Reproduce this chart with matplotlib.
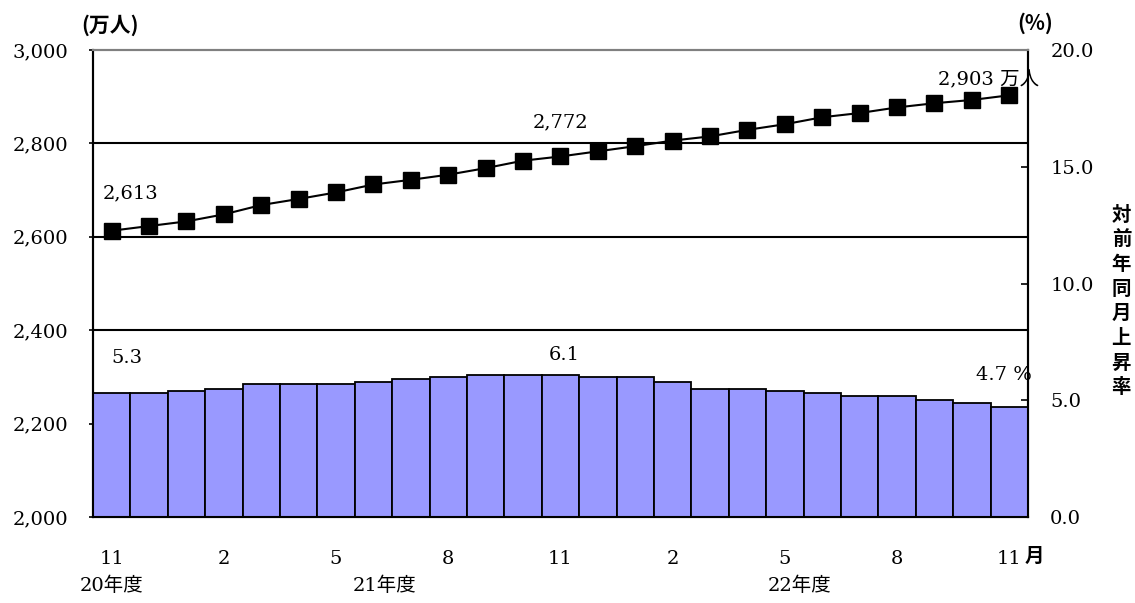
import numpy as np
import matplotlib.pyplot as plt

# データ（20年度11月 ～ 22年度11月）
meses = ['11', '', '', '2', '', '', '5', '', '', '8', '', '', '11', '', '', '2', '', '', '5', '', '', '8', '', '', '11']
pessoas = [2613, 2623, 2633, 2648, 2668, 2681, 2695, 2712, 2722, 2733, 2747, 2763, 2772,
           2783, 2794, 2806, 2815, 2829, 2841, 2856, 2865, 2877, 2886, 2893, 2903]
taxa = [5.3, 5.3, 5.4, 5.5, 5.7, 5.7, 5.7, 5.8, 5.9, 6.0, 6.1, 6.1, 6.1,
        6.0, 6.0, 5.8, 5.5, 5.5, 5.4, 5.3, 5.2, 5.2, 5.0, 4.9, 4.7]
anos = ['20年度', '21年度', '22年度']
anos_pos = [0, 7.3, 18.4]

serif = ['DejaVu Serif', 'Noto Sans CJK JP']
cjk = ['Noto Sans CJK JP', 'DejaVu Sans']
plt.rcParams['font.family'] = serif
fs = 14

x = np.arange(len(pessoas))

fig = plt.figure(figsize=(11.35, 6.03), dpi=100)
ax = fig.add_axes([0.0819, 0.1426, 0.8238, 0.7745])
ax2 = ax.twinx()

# eixo esquerdo (万人)
ax.set_ylim(2000, 3000)
ax.set_yticks([2000, 2200, 2400, 2600, 2800, 3000])
ax.set_yticklabels([f'{v:,}' for v in [2000, 2200, 2400, 2600, 2800, 3000]], fontsize=fs)
for v in [2200, 2400, 2600, 2800]:
    ax.axhline(v, color='black', lw=1.5, zorder=0)
ax.tick_params(axis='y', direction='out', length=3, width=1.2, pad=15)

# barras no eixo direito (%)
ax2.bar(x, taxa, width=1.0, color='#9999FF', edgecolor='black', linewidth=1.3, zorder=2)
ax2.set_ylim(0, 20)
ax2.set_yticks([0, 5, 10, 15, 20])
ax2.set_yticklabels([f'{v:.1f}' for v in [0, 5, 10, 15, 20]], fontsize=fs)
ax2.tick_params(axis='y', direction='in', length=5, width=1.2, pad=16)

# linha
ax2.plot(x, [(p - 2000) / 50 for p in pessoas], color='black', lw=1.5, marker='s',
         markersize=11, zorder=3)

ax.set_xlim(-0.5, len(pessoas) - 0.5)
ax.set_xticks(x)
ax.set_xticklabels(meses, fontsize=fs)
ax.tick_params(axis='x', length=0, pad=24)

for a in (ax, ax2):
    a.spines['left'].set_linewidth(1.5)
    a.spines['right'].set_linewidth(1.5)
    a.spines['bottom'].set_linewidth(1.5)
    a.spines['top'].set_color('#808080')
    a.spines['top'].set_linewidth(1.5)

# rótulos
ax.text(0.5, 2694, '2,613', fontsize=fs, ha='center', va='center')
ax.text(12, 2846, '2,772', fontsize=fs, ha='center', va='center')
ax.text(24.8, 2936, '2,903 万人', fontsize=fs, ha='right', va='center', family=serif)
ax2.text(0.4, 6.8, '5.3', fontsize=fs, ha='center', va='center')
ax2.text(12.1, 6.94, '6.1', fontsize=fs, ha='center', va='center')
ax2.text(24.6, 6.08, '4.7 %', fontsize=fs, ha='right', va='center')

trans = ax.get_xaxis_transform()
for pos, ano in zip(anos_pos, anos):
    ax.text(pos, -0.148, ano, transform=trans, fontsize=fs, ha='center', va='center', family=serif)
ax.text(24.4, -0.085, '月', transform=trans, fontsize=fs, ha='left', va='center',
        family=cjk, fontweight='bold')

fig.text(0.097, 0.958, '(万人)', fontsize=15, ha='center', va='center', family=cjk, fontweight='bold')
fig.text(0.912, 0.962, '(%)', fontsize=15, ha='center', va='center', family=cjk, fontweight='bold')
fig.text(0.988, 0.5, '\n'.join('対前年同月上昇率'), fontsize=14, ha='center', va='center',
         family=cjk, fontweight='bold', linespacing=1.38)

fig.savefig('out.png', dpi=100)
